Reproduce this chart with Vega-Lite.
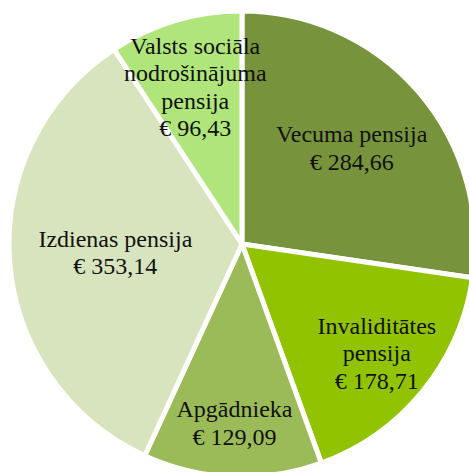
{
  "$schema": "https://vega.github.io/schema/vega-lite/v6.json",
  "width": 484,
  "height": 488,
  "padding": 0,
  "autosize": {"type": "none"},
  "background": "white",
  "view": {"stroke": null},
  "data": {
    "values": [
      {"idx": 1, "name": "Vecuma pensija", "value": 284.66, "label": "Vecuma pensija\n€ 284,66"},
      {"idx": 2, "name": "Invaliditātes pensija", "value": 178.71, "label": "Invaliditātes\npensija\n€ 178,71"},
      {"idx": 3, "name": "Apgādnieka", "value": 129.09, "label": "Apgādnieka\n€ 129,09"},
      {"idx": 4, "name": "Izdienas pensija", "value": 353.14, "label": "Izdienas pensija\n€ 353,14"},
      {"idx": 5, "name": "Valsts sociālā nodrošinājuma pensija", "value": 96.43, "label": "Valsts sociāla\nnodrošinājuma\npensija\n€ 96,43"}
    ]
  },
  "encoding": {
    "theta": {"field": "value", "type": "quantitative", "stack": true},
    "order": {"field": "idx", "type": "quantitative"}
  },
  "layer": [
    {
      "mark": {"type": "arc", "outerRadius": 233, "stroke": "white", "strokeWidth": 5},
      "encoding": {
        "color": {
          "field": "name",
          "type": "nominal",
          "legend": null,
          "scale": {
            "domain": ["Vecuma pensija", "Invaliditātes pensija", "Apgādnieka", "Izdienas pensija", "Valsts sociālā nodrošinājuma pensija"],
            "range": ["#77933C", "#92C300", "#9BBB59", "#D7E4BD", "#B0E57C"]
          }
        }
      }
    },
    {
      "mark": {
        "type": "text",
        "radius": {"expr": "datum.idx === 1 ? 145 : datum.idx === 2 ? 174 : datum.idx === 3 ? 180 : datum.idx === 4 ? 127 : 163"},
        "dy": {"expr": "-(split(datum.label, '\\n').length - 1) * 13.75"},
        "font": "Liberation Serif, Times New Roman, serif",
        "fontSize": 24,
        "lineHeight": 27.5,
        "lineBreak": "\n",
        "align": "center",
        "baseline": "middle",
        "color": "#111111"
      },
      "encoding": {"text": {"field": "label"}}
    }
  ]
}
